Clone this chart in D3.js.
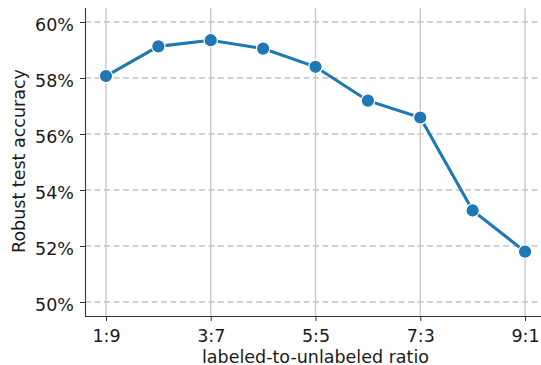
<!DOCTYPE html>
<html><head><meta charset="utf-8">
<script src="https://cdn.jsdelivr.net/npm/d3@7"></script>
<style>body{margin:0;background:#fff}svg{display:block}text{font-family:"DejaVu Sans",sans-serif;fill:#1a1a1a}</style>
</head><body><svg id="c" width="541" height="365"></svg>
<script>
const ratios = [1,2,3,4,5,6,7,8,9];
const accuracy = [58.07, 59.13, 59.35, 59.05, 58.40, 57.19, 56.59, 53.27, 51.80];
const xTickValues = [1,3,5,7,9];
const xTickLabels = ["1:9","3:7","5:5","7:3","9:1"];
const yTickValues = [50,52,54,56,58,60];

(function(){
const svg = d3.select("#c");
const pL = 85, pR = 546, pT = 8, pB = 316;
const fs = "17.5px";
const x = d3.scaleLinear().domain([0.6, 9.4]).range([pL, pR]);
const y = d3.scaleLinear().domain([49.5, 60.5]).range([pB, pT]);

// grid
svg.append("g").selectAll("line").data(xTickValues).join("line")
  .attr("x1", d => x(d)).attr("x2", d => x(d)).attr("y1", pT).attr("y2", pB)
  .attr("stroke", "#c4c4c4").attr("stroke-width", 1.3);
svg.append("g").selectAll("line").data(yTickValues).join("line")
  .attr("x1", pL).attr("x2", pR).attr("y1", d => y(d)).attr("y2", d => y(d))
  .attr("stroke", "#c4c4c4").attr("stroke-width", 1.3).attr("stroke-dasharray", "6,3.5");

// axes
const xAxis = d3.axisBottom(x).tickValues(xTickValues).tickFormat((d,i) => xTickLabels[i]).tickSizeOuter(0).tickSize(5).tickPadding(8.2);
const gx = svg.append("g").attr("transform", `translate(0,${pB})`).call(xAxis);
const yAxis = d3.axisLeft(y).tickValues(yTickValues).tickFormat(d => d + "%").tickSizeOuter(0).tickSize(5).tickPadding(6);
const gy = svg.append("g").attr("transform", `translate(${pL},0)`).call(yAxis);
[gx, gy].forEach(g => {
  g.select(".domain").attr("stroke", "#333").attr("stroke-width", 1.1);
  g.selectAll(".tick line").attr("stroke", "#333").attr("stroke-width", 1);
  g.selectAll("text").style("font-size", fs).style("font-family", '"DejaVu Sans",sans-serif').attr("fill", "#1a1a1a");
});
gy.selectAll(".tick text").attr("dy", "0.48em");
gx.select(".domain").attr("d", `M${pL},0.5H${pR}`);
gy.select(".domain").attr("d", `M0.5,${pB}V${pT}`);

// line
const pts = ratios.map((r,i) => [r, accuracy[i]]);
svg.append("path").datum(pts)
  .attr("d", d3.line().x(d => x(d[0])).y(d => y(d[1])))
  .attr("fill", "none").attr("stroke", "#1f77b4").attr("stroke-width", 3.1);
svg.append("g").selectAll("circle").data(pts).join("circle")
  .attr("cx", d => x(d[0])).attr("cy", d => y(d[1])).attr("r", 6.7)
  .attr("fill", "#1f77b4").attr("stroke", "#fff").attr("stroke-width", 1.2);

// labels
svg.append("text").attr("x", 315.5).attr("y", 362.5).attr("text-anchor", "middle")
  .style("font-size", fs).text("labeled-to-unlabeled ratio");
svg.append("text").attr("transform", `translate(25,161) rotate(-90)`).attr("text-anchor", "middle")
  .style("font-size", fs).text("Robust test accuracy");
})();
</script></body></html>
